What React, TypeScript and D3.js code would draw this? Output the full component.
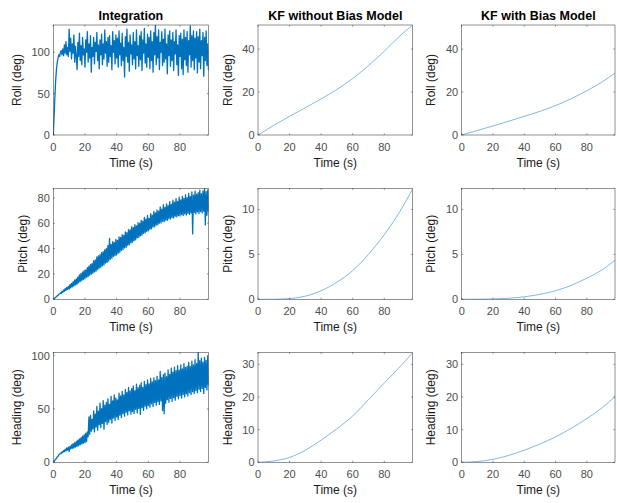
import React from "react";
import * as d3 from "d3";

// ---------- data ----------
const COLUMN_TITLES = ["Integration", "KF without Bias Model", "KF with Bias Model"];
const ROW_LABELS = ["Roll (deg)", "Pitch (deg)", "Heading (deg)"];
const X_TICKS = [0, 20, 40, 60, 80];
const X_MAX = 98;

// Integration (dense samples, every 0.5 s)
const INT_DT = 0.5;
const intRoll = [
  0, 22, 46, 66, 80, 88, 93, 97, 95, 100,
  102, 97, 104, 96, 109, 99, 113, 97, 106, 95,
  128, 101, 117, 92, 110, 99, 121, 88, 107, 96,
  79, 112, 95, 123, 90, 108, 85, 118, 97, 104,
  82, 115, 100, 125, 88, 110, 93, 120, 76, 106,
  95, 118, 86, 112, 101, 124, 90, 109, 80, 115,
  97, 122, 85, 110, 92, 127, 99, 113, 83, 118,
  88, 120, 95, 108, 79, 125, 100, 114, 86, 121,
  93, 117, 82, 126, 97, 111, 84, 123, 90, 106,
  70, 119, 95, 128, 88, 112, 77, 121, 98, 109,
  85, 124, 92, 113, 80, 127, 96, 108, 83, 120,
  91, 125, 78, 115, 99, 129, 87, 110, 82, 122,
  94, 118, 80, 126, 90, 113, 76, 124, 97, 133,
  85, 119, 93, 127, 79, 112, 100, 125, 84, 116,
  88, 128, 92, 110, 74, 121, 96, 126, 83, 115,
  90, 124, 78, 113, 98, 127, 85, 109, 72, 120,
  95, 123, 80, 116, 73, 127, 91, 118, 84, 125,
  76, 114, 97, 132, 82, 120, 90, 126, 79, 117,
  93, 125, 75, 119, 88, 128, 80, 114, 96, 124,
  71, 118, 90, 126, 84, 110, 78,
];
const intPitch = [
  0, 0.5, 1, 1.6, 2, 2.8, 3.1, 4, 4.2, 5,
  4.6, 6.3, 5.5, 7.4, 6.2, 8.5, 7, 9.4, 7.8, 10.2,
  8.1, 11.5, 9, 12.6, 9.8, 13.9, 10.5, 15.2, 11.3, 16,
  12, 17.5, 13.1, 19.2, 14, 20.4, 14.8, 21.5, 15.6, 22.8,
  16.2, 23.1, 17.5, 25, 17.9, 26.2, 19.1, 27.5, 19.8, 28.2,
  20.5, 30.4, 21.6, 31, 22.2, 33.5, 23.4, 34.2, 24.5, 35.1,
  25.2, 36.8, 26.4, 37.5, 27, 39.2, 28.5, 40.1, 29.1, 42.5,
  30.2, 48, 31.5, 43.2, 32.4, 45.5, 33.8, 44.8, 34.5, 47.2,
  35, 46.5, 36.4, 49.2, 37.1, 48.8, 38.5, 51, 39.2, 50.4,
  40.5, 53.2, 41.1, 52.5, 42.6, 55, 43.1, 54.8, 44.5, 57.2,
  45, 56.5, 46.2, 58.8, 46.9, 57.9, 48.4, 60.5, 48.8, 59.8,
  50.1, 62.2, 50.6, 61.5, 52, 64.5, 52.4, 63.2, 53.5, 66.1,
  54, 63.8, 55.2, 67.5, 55.6, 66.3, 57, 69.2, 57.2, 68.1,
  58.5, 70.5, 58.7, 69.4, 60, 72.8, 60.2, 71.1, 61.5, 74.6,
  61.2, 72.5, 62.4, 75.3, 62.3, 73.8, 63.5, 77, 63.4, 74.8,
  64.5, 78.1, 64.2, 76.5, 65.5, 79.4, 64.9, 77.2, 66, 80.5,
  65.6, 78.3, 66.8, 81.2, 66.1, 79.5, 67.3, 82.4, 66.5, 80.1,
  67.8, 83.5, 66.9, 81.2, 68.2, 84.6, 51.5, 82.1, 68.5, 85.2,
  67.3, 82.8, 68.9, 84.1, 67.6, 86, 69.2, 83.2, 68, 85.5,
  69.5, 87.3, 58.5, 84.8, 66.2, 86.2, 69,
];
const intHeading = [
  0, 1, 1.8, 3, 3.5, 5.2, 5.6, 7, 7.5, 8.6,
  8.2, 9.8, 9.1, 11, 10, 12.3, 10.6, 13.5, 11.4, 14.2,
  10.2, 14.8, 12.5, 16.2, 13, 17.5, 13.6, 18.3, 14.2, 19.5,
  15, 20.8, 15.5, 22, 16.6, 23.1, 17.2, 24.5, 18, 25.8,
  18.4, 27.2, 19.6, 28.5, 24, 42.5, 26.2, 44, 29.1, 40.2,
  31.2, 48.1, 28.5, 45.2, 33, 52.4, 30.1, 47.8, 35.2, 55.5,
  32.5, 50.2, 36.4, 57.8, 31, 53.5, 38.2, 56.1, 35.5, 59.3,
  37.5, 54.2, 40.1, 61.8, 36.8, 57.5, 41.5, 63.2, 39.2, 60.1,
  42.5, 58.5, 40.2, 64.8, 44.1, 62.2, 41.8, 66.5, 45.5, 63.1,
  43.2, 68.2, 46.8, 65.5, 44.4, 70.1, 48.2, 66.9, 45.1, 69.2,
  47.5, 71.5, 45.8, 67.2, 49.6, 73.1, 46.2, 69.8, 50.5, 72.2,
  44.8, 74.5, 51.2, 70.1, 48.6, 75.8, 52.5, 72.6, 50.1, 77.2,
  53.2, 73.5, 51.5, 78.5, 54.8, 75.2, 52.2, 79.1, 55.9, 76.4,
  53.5, 80.5, 56.8, 77.1, 54.2, 85.2, 57.5, 79.5, 48.5, 82.1,
  45.5, 83.5, 55.2, 80.1, 58.6, 86.5, 56.2, 82.4, 59.8, 88.2,
  57.1, 84.5, 60.5, 89.1, 58.2, 85.8, 61.8, 90.5, 59.5, 86.2,
  62.5, 91.2, 60.1, 87.5, 63.6, 92.4, 61.2, 88.9, 64.2, 90.1,
  62.1, 93.5, 65.2, 89.8, 63.4, 94.6, 66.1, 91.2, 64.5, 96.2,
  67.2, 92.4, 65.1, 103, 68.4, 95.1, 66.2, 97.5, 69.2, 93.8,
  64.5, 98.2, 70.1, 95.5, 67.8, 99.1, 72,
];

// Kalman filter estimates (smooth)
const kfTime = [0, 10, 20, 30, 40, 50, 60, 70, 80, 90, 98];
const kfNoBiasRoll = [0, 4.5, 8.7, 12.7, 16.8, 21.2, 26.3, 32.3, 39.0, 46.2, 51.2];
const kfBiasRoll = [0, 2.1, 4.2, 6.4, 8.7, 11.0, 13.7, 16.9, 20.6, 24.8, 28.8];
const kfNoBiasPitch = [0, 0.01, 0.08, 0.35, 0.95, 1.9, 3.2, 5.0, 7.2, 9.8, 12.3];
const kfBiasPitch = [0, 0.01, 0.04, 0.12, 0.28, 0.55, 0.95, 1.55, 2.35, 3.3, 4.35];
const kfNoBiasHeading = [0, 0.4, 1.5, 3.7, 6.8, 10.3, 14.2, 19.2, 24.3, 29.3, 33.6];
const kfBiasHeading = [0, 0.25, 0.9, 2.1, 3.7, 5.6, 7.8, 10.4, 13.4, 16.8, 20.1];

// y-axis limits and ticks per row/column
const Y_MAX = [
  [133, 51.2, 51.2],
  [87.5, 12.35, 12.35],
  [103, 33.7, 33.7],
];
const Y_TICKS = [
  [[0, 50, 100], [0, 20, 40], [0, 20, 40]],
  [[0, 20, 40, 60, 80], [0, 5, 10], [0, 5, 10]],
  [[0, 50, 100], [0, 10, 20, 30], [0, 10, 20, 30]],
];

// ---------- layout ----------
const W = 617;
const H = 503;
const COL_LEFT = [53.3, 258, 461.7];
const COL_RIGHT = [208.5, 412.7, 615];
const ROW_TOP = [25, 188.3, 352.3];
const ROW_BOTTOM = [135, 299.3, 462.3];
const FONT = "'Liberation Sans', Arial, Helvetica, sans-serif";
const LINE_COLOR = "#0072BD";
const AXIS_COLOR = "#262626";

type Series = { t: number[]; v: number[]; dense: boolean };

const intTime = intRoll.map((_, i) => i * INT_DT);

const SERIES: Series[][] = [
  [
    { t: intTime, v: intRoll, dense: true },
    { t: kfTime, v: kfNoBiasRoll, dense: false },
    { t: kfTime, v: kfBiasRoll, dense: false },
  ],
  [
    { t: intTime, v: intPitch, dense: true },
    { t: kfTime, v: kfNoBiasPitch, dense: false },
    { t: kfTime, v: kfBiasPitch, dense: false },
  ],
  [
    { t: intTime, v: intHeading, dense: true },
    { t: kfTime, v: kfNoBiasHeading, dense: false },
    { t: kfTime, v: kfBiasHeading, dense: false },
  ],
];

function Panel({ r, c }: { r: number; c: number }) {
  const x0 = COL_LEFT[c];
  const x1 = COL_RIGHT[c];
  const y0 = ROW_TOP[r];
  const y1 = ROW_BOTTOM[r];
  const x = d3.scaleLinear().domain([0, X_MAX]).range([x0, x1]);
  const y = d3.scaleLinear().domain([0, Y_MAX[r][c]]).range([y1, y0]);
  const s = SERIES[r][c];
  const line = d3
    .line<number>()
    .x((_, i) => x(s.t[i]))
    .y((d) => y(d))
    .curve(s.dense ? d3.curveLinear : d3.curveMonotoneX);
  const yt = Y_TICKS[r][c];
  const maxChars = d3.max(yt, (v) => String(v).length) || 1;
  const tickW = maxChars * 0.556 * 11;
  const ylabX = x0 - 4 - tickW - 10;
  const ymid = (y0 + y1) / 2;
  const tl = 1.6;
  const clipId = `clip-${r}-${c}`;
  return (
    <g>
      <defs>
        <clipPath id={clipId}>
          <rect x={x0} y={y0} width={x1 - x0} height={y1 - y0} />
        </clipPath>
      </defs>
      <rect x={x0} y={y0} width={x1 - x0} height={y1 - y0} fill="#fff" />
      <path
        d={line(s.v) || ""}
        fill="none"
        stroke={LINE_COLOR}
        strokeWidth={s.dense ? 1.3 : 0.5}
        strokeLinejoin="round"
        clipPath={`url(#${clipId})`}
      />
      <rect
        x={x0}
        y={y0}
        width={x1 - x0}
        height={y1 - y0}
        fill="none"
        stroke={AXIS_COLOR}
        strokeWidth={0.5}
      />
      {X_TICKS.map((v) => (
        <g key={`xt${v}`}>
          <line x1={x(v)} x2={x(v)} y1={y1} y2={y1 - tl} stroke={AXIS_COLOR} strokeWidth={0.5} />
          <line x1={x(v)} x2={x(v)} y1={y0} y2={y0 + tl} stroke={AXIS_COLOR} strokeWidth={0.5} />
          <text
            x={x(v)}
            y={y1 + 15.5}
            textAnchor="middle"
            fontSize={11}
            fill="#4d4d4d"
            fontFamily={FONT}
          >
            {v}
          </text>
        </g>
      ))}
      {yt.map((v) => (
        <g key={`yt${v}`}>
          <line x1={x0} x2={x0 + tl} y1={y(v)} y2={y(v)} stroke={AXIS_COLOR} strokeWidth={0.5} />
          <line x1={x1} x2={x1 - tl} y1={y(v)} y2={y(v)} stroke={AXIS_COLOR} strokeWidth={0.5} />
          <text
            x={x0 - 3.5}
            y={y(v) + 4}
            textAnchor="end"
            fontSize={11}
            fill="#4d4d4d"
            fontFamily={FONT}
          >
            {v}
          </text>
        </g>
      ))}
      <text
        x={(x0 + x1) / 2}
        y={y1 + 32}
        textAnchor="middle"
        fontSize={12}
        fill="#1a1a1a"
        fontFamily={FONT}
      >
        Time (s)
      </text>
      <text
        transform={`translate(${ylabX},${ymid}) rotate(-90)`}
        textAnchor="middle"
        fontSize={12}
        fill="#1a1a1a"
        fontFamily={FONT}
      >
        {ROW_LABELS[r]}
      </text>
      {r === 0 && (
        <text
          x={(x0 + x1) / 2}
          y={19.5}
          textAnchor="middle"
          fontSize={12.5}
          fontWeight="bold"
          fill="#000"
          fontFamily={FONT}
        >
          {COLUMN_TITLES[c]}
        </text>
      )}
    </g>
  );
}

export default function App() {
  return (
    <div style={{ position: "absolute", left: 0, top: 0 }}>
      <svg width={W} height={H} style={{ display: "block", background: "#fff" }}>
        <rect x={0} y={0} width={W} height={H} fill="#fff" />
        {[0, 1, 2].map((r) =>
          [0, 1, 2].map((c) => <Panel key={`${r}-${c}`} r={r} c={c} />)
        )}
      </svg>
    </div>
  );
}
